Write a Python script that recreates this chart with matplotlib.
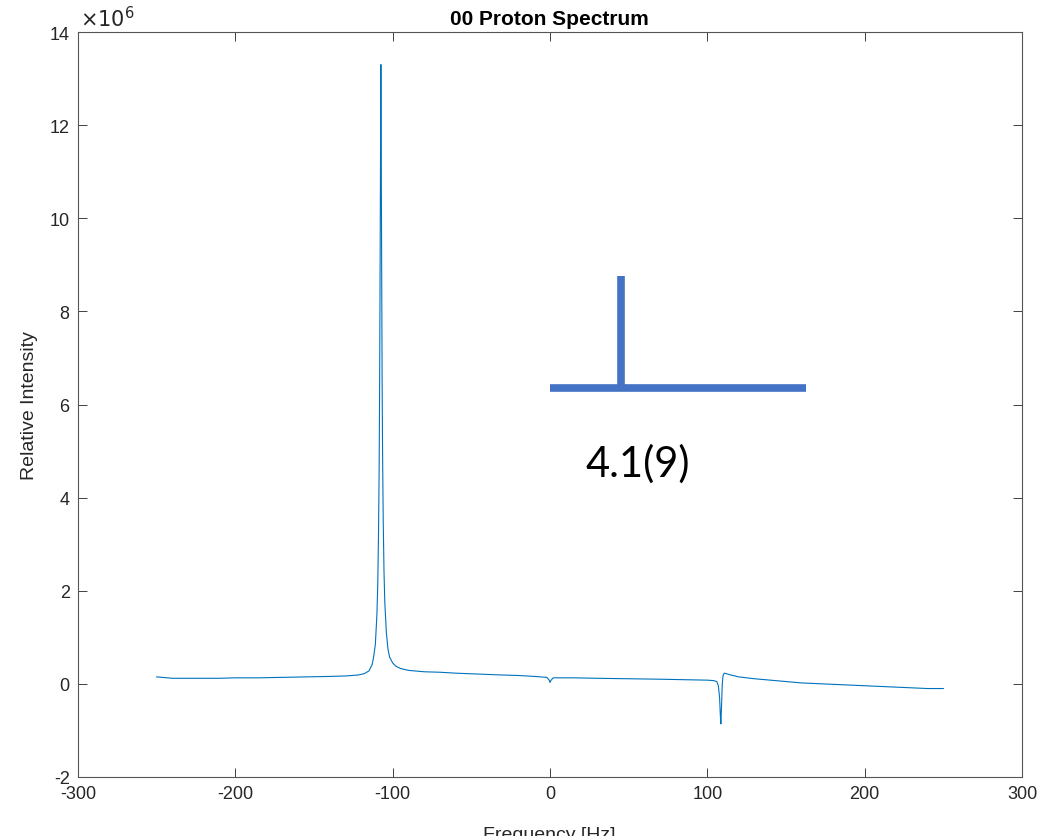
import matplotlib
matplotlib.use("Agg")
import matplotlib.pyplot as plt

# spectrum points (Hz, intensity in 1e6)
freq = [-250, -240, -225, -210, -200, -185, -170, -155, -140, -130, -122, -118,
        -115, -113, -112, -111, -110, -109.5, -109, -108.6, -108.3, -108.0,
        -107.8, -107.5, -107.2, -107.0, -106.7, -106.4, -106.0, -105.5, -105,
        -104, -103, -102, -100, -98, -95, -90, -80, -70, -60, -45, -30, -20,
        -10, -2, -0.5, 0, 0.5, 2, 15, 30, 50, 70, 85, 100, 104, 106, 107,
        107.8, 108.3, 108.6, 109, 109.5, 110, 110.8, 112, 115, 120, 130, 140,
        150, 160, 180, 200, 220, 240, 250]
intensity = [0.15, 0.12, 0.12, 0.12, 0.13, 0.13, 0.14, 0.15, 0.16, 0.17, 0.19, 0.22,
             0.28, 0.42, 0.6, 0.85, 1.5, 2.1, 3.2, 4.6, 6.3, 8.8,
             10.6, 13.3, 10.8, 9.0, 6.5, 4.9, 3.5, 2.4, 1.75,
             1.1, 0.75, 0.58, 0.45, 0.38, 0.33, 0.29, 0.26, 0.25, 0.23, 0.21, 0.19, 0.18,
             0.16, 0.14, 0.08, 0.03, 0.07, 0.13, 0.13, 0.12, 0.11, 0.1, 0.09, 0.08, 0.07, 0.05, -0.04,
             -0.3, -0.7, -0.86, -0.5, 0.0, 0.18, 0.23, 0.22, 0.19, 0.15, 0.11, 0.08,
             0.05, 0.02, -0.01, -0.04, -0.07, -0.1, -0.1]

xticks = [-300, -200, -100, 0, 100, 200, 300]
yticks = [-2, 0, 2, 4, 6, 8, 10, 12, 14]

# overlay drawn on top of the chart (data coords)
bar_h_x = [0, 163]
bar_h_y = [6.36, 6.36]
bar_v_x = [45, 45]
bar_v_y = [6.36, 8.76]
label_pos = (56, 4.75)
label_txt = "4.1(9)"

plt.rcParams['font.family'] = ['Liberation Sans', 'DejaVu Sans']
plt.rcParams['axes.unicode_minus'] = False

fig = plt.figure(figsize=(10.42, 8.37), dpi=100)
ax = fig.add_axes([78/1042, 59/837, 944/1042, 745/837])

ax.plot(freq, intensity, color='#0072BD', lw=0.8)

ax.set_xlim(-300, 300)
ax.set_ylim(-2, 14)
ax.set_xticks(xticks)
ax.set_yticks(yticks)
ax.tick_params(direction='in', length=6.5, width=0.7, color='#404040',
               labelsize=13, top=True, right=True, labelcolor='#262626', pad=6)
for s in ax.spines.values():
    s.set_color('#555555')
    s.set_linewidth(0.8)

ax.set_ylabel('Relative Intensity', fontsize=14, color='#262626', labelpad=8)

# cut-off pieces of the original figure
fig.text(80/1042, 1 - 27/837, r'$\times10^{6}$', fontsize=15, color='#262626', va='baseline')
fig.text(549/1042, 1 - 25/837, '00 Proton Spectrum', fontsize=15, fontweight='bold',
         ha='center', va='baseline')
fig.text(549/1042, 1 - 840/837, 'Frequency [Hz]', fontsize=14, color='#262626',
         ha='center', va='baseline')

ax.plot(bar_h_x, bar_h_y, color='#4472C4', lw=5.5, solid_capstyle='butt')
ax.plot(bar_v_x, bar_v_y, color='#4472C4', lw=5.5, solid_capstyle='butt')
ax.text(label_pos[0], label_pos[1], label_txt, fontsize=30, family='Lato',
        ha='center', va='center', color='black')

fig.savefig('out.png', dpi=100)
